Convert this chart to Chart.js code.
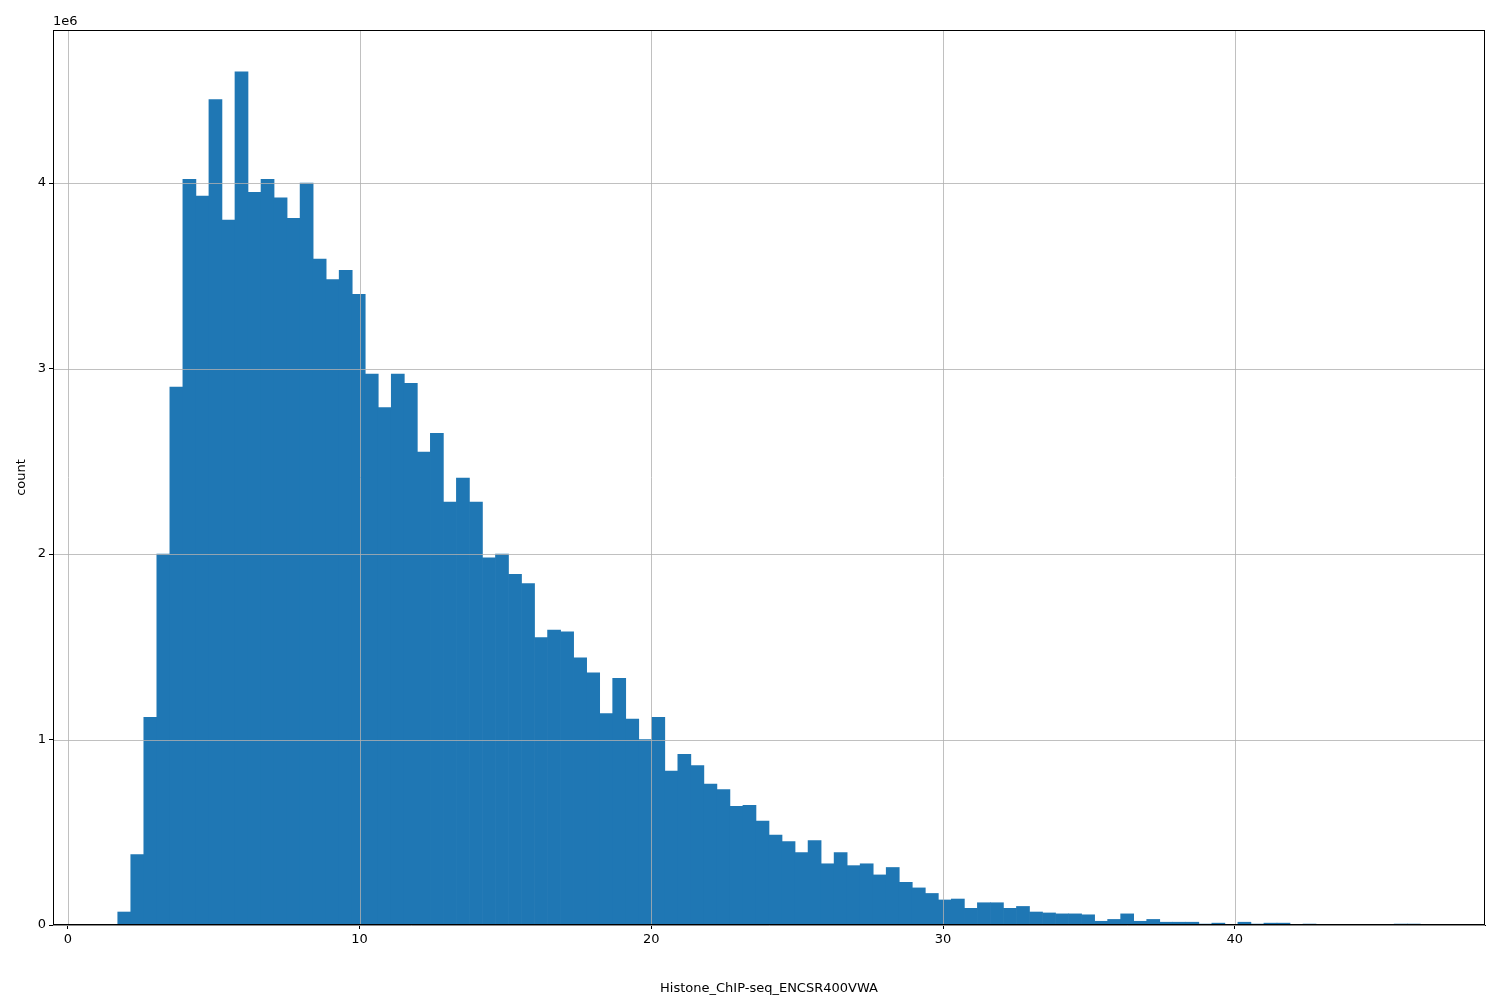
<!DOCTYPE html>
<html>
<head>
<meta charset="utf-8">
<script src="https://cdn.jsdelivr.net/npm/chart.js@4"></script>
<style>
  html, body { margin: 0; padding: 0; background: #fff; }
  #wrap { width: 1500px; height: 1000px; }
</style>
</head>
<body>
<div id="wrap"><canvas id="hist"></canvas></div>
<script>
// histogram bins (left edge + width) and counts in units of 1e6
const binStart = 1.71;
const binWidth = 0.4465;
const counts = [
  0.07, 0.38, 1.12, 2.0, 2.9, 4.02, 3.93, 4.45, 3.80, 4.6,
  3.95, 4.02, 3.92, 3.81, 4.0, 3.59, 3.48, 3.53, 3.40, 2.97,
  2.79, 2.97, 2.92, 2.55, 2.65, 2.28, 2.41, 2.28, 1.98, 2.0,
  1.89, 1.84, 1.55, 1.59, 1.58, 1.44, 1.36, 1.14, 1.33, 1.11,
  1.0, 1.12, 0.83, 0.92, 0.86, 0.76, 0.73, 0.64, 0.645, 0.56,
  0.485, 0.45, 0.39, 0.455, 0.33, 0.39, 0.32, 0.33, 0.27, 0.31,
  0.23, 0.20, 0.17, 0.135, 0.14, 0.09, 0.12, 0.12, 0.09, 0.10,
  0.07, 0.065, 0.06, 0.06, 0.055, 0.02, 0.03, 0.06, 0.02, 0.03,
  0.015, 0.015, 0.015, 0.005, 0.01, 0, 0.015, 0.005, 0.01, 0.01,
  0, 0.005, 0.003, 0, 0, 0, 0, 0, 0.005, 0.005
];
const xTicks = [0, 10, 20, 30, 40];
const yTicks = [0, 1, 2, 3, 4];
const xLabel = 'Histone_ChIP-seq_ENCSR400VWA';
const yLabel = 'count';

const points = counts.map((c, i) => ({ x: binStart + binWidth * (i + 0.5), y: c }));

// grid over the bars, frame and the offset text, like matplotlib
const frame = {
  id: 'frame',
  afterDatasetsDraw(chart) {
    const { ctx, chartArea: a, scales } = chart;
    ctx.save();
    ctx.strokeStyle = '#b0b0b0';
    ctx.lineWidth = 0.8;
    ctx.beginPath();
    xTicks.forEach(v => {
      const px = Math.round(scales.x.getPixelForValue(v)) + 0.5;
      ctx.moveTo(px, a.top); ctx.lineTo(px, a.bottom);
    });
    yTicks.forEach(v => {
      const py = Math.round(scales.y.getPixelForValue(v)) + 0.5;
      ctx.moveTo(a.left, py); ctx.lineTo(a.right, py);
    });
    ctx.stroke();
    ctx.strokeStyle = '#000';
    ctx.lineWidth = 1;
    ctx.strokeRect(a.left + 0.5, a.top + 0.5, a.right - a.left - 1, a.bottom - a.top - 1);
    ctx.fillStyle = '#000';
    ctx.font = '13px "DejaVu Sans"';
    ctx.textAlign = 'left';
    ctx.textBaseline = 'bottom';
    ctx.fillText('1e6', a.left, a.top - 2);
    ctx.restore();
  }
};

const gridOpts = { drawOnChartArea: false, tickLength: 4, tickColor: '#000', offset: false };
const tickFont = { family: 'DejaVu Sans', size: 13 };

new Chart(document.getElementById('hist'), {
  type: 'bar',
  data: {
    datasets: [{
      data: points,
      backgroundColor: '#1f77b4',
      borderWidth: 0,
      barPercentage: 1.0,
      categoryPercentage: 1.0
    }]
  },
  options: {
    responsive: true,
    maintainAspectRatio: false,
    animation: false,
    layout: { padding: { top: 30, right: 15, left: 10, bottom: 0 } },
    plugins: { legend: { display: false }, tooltip: { enabled: false } },
    scales: {
      x: {
        type: 'linear',
        min: -0.51,
        max: 48.58,
        offset: false,
        afterBuildTicks: s => { s.ticks = xTicks.map(v => ({ value: v })); },
        ticks: { color: '#000', font: tickFont, maxRotation: 0 },
        grid: gridOpts,
        border: { color: '#000' },
        title: { display: true, text: xLabel, color: '#000', font: tickFont, padding: { top: 22 } },
        afterFit: s => { s.height = 75; }
      },
      y: {
        min: 0,
        max: 4.825,
        afterBuildTicks: s => { s.ticks = yTicks.map(v => ({ value: v })); },
        ticks: { color: '#000', font: tickFont },
        grid: gridOpts,
        border: { color: '#000' },
        title: { display: true, text: yLabel, color: '#000', font: tickFont, padding: { bottom: 8 } },
        afterFit: s => { s.width = 43; }
      }
    }
  },
  plugins: [frame]
});
</script>
</body>
</html>
